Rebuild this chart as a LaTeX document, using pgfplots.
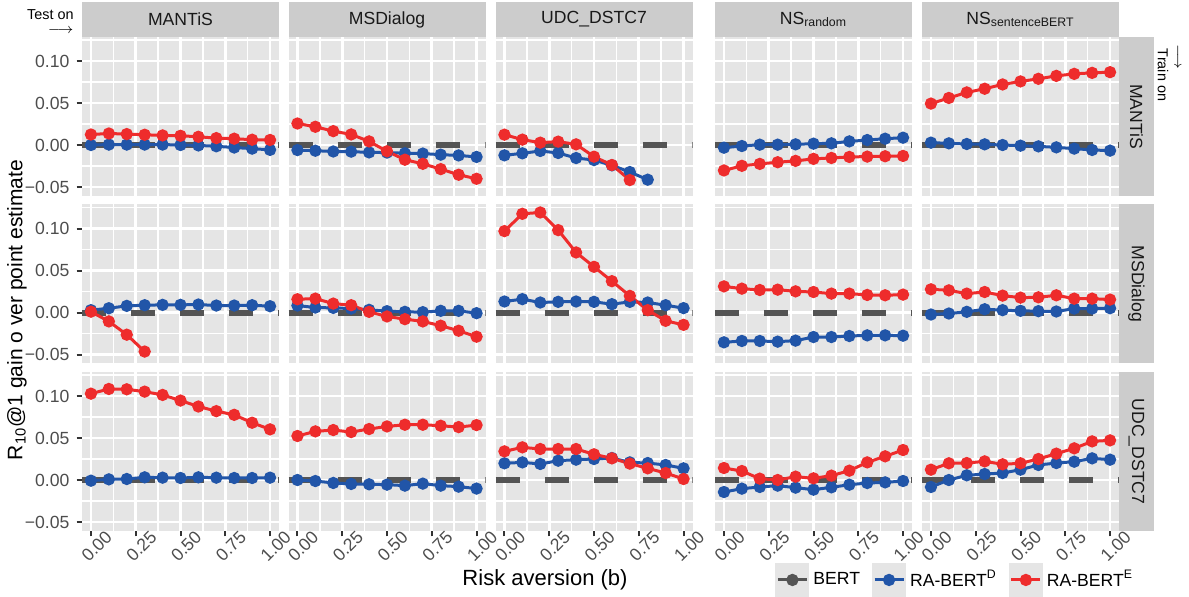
\documentclass[border=0pt]{standalone}
\usepackage{pgfplots}
\pgfplotsset{compat=1.18}
\usepackage{fontspec}
\setmainfont{Liberation Sans}

\definecolor{panelbg}{HTML}{E5E5E5}
\definecolor{stripc}{HTML}{CCCCCC}
\definecolor{redc}{HTML}{EE2C2C}
\definecolor{bluec}{HTML}{2155A8}
\definecolor{bertc}{HTML}{545454}
\definecolor{tickc}{HTML}{333333}
\definecolor{labc}{HTML}{4D4D4D}

\newcommand{\tickfont}{\fontsize{8.8}{10}\selectfont}
\newcommand{\stripfont}{\fontsize{8.8}{10}\selectfont}

\pgfplotsset{
  panel/.style={
    scale only axis, width=98.5pt, height=79.5pt, anchor=north west,
    xmin=-0.05, xmax=1.05, ymin=-0.0607, ymax=0.1286,
    axis background/.style={fill=panelbg},
    axis line style={draw=none},
    xtick={0,0.25,0.5,0.75,1}, ytick={-0.05,0,0.05,0.1},
    minor xtick={0.125,0.375,0.625,0.875},
    minor ytick={-0.025,0.025,0.075,0.125},
    grid=both,
    major grid style={white, line width=1.3pt},
    minor grid style={white, line width=0.8pt},
    xticklabels={}, yticklabels={},
    tick pos=left, tick align=outside,
    major tick length=2.75pt, minor tick length=0pt,
    xtick style={draw=none}, ytick style={draw=none},
    ticklabel style={font=\tickfont, text=labc},
  },
  lefty/.style={
    yticklabels={−0.05,0.00,0.05,0.10},
    ytick style={draw=tickc, line width=1pt},
  },
  bottomx/.style={
    xticklabels={0.00,0.25,0.50,0.75,1.00},
    xtick style={draw=tickc, line width=1pt},
    xticklabel style={rotate=45, anchor=center, yshift=-5.5pt, xshift=-1.5pt},
  },
  bert/.style={bertc, line width=3pt, dash pattern=on 12pt off 12.5pt, forget plot},
  blue/.style={bluec, line width=1.5pt, mark=*, mark size=2.3pt, mark options={solid, fill=bluec, draw=bluec}},
  red/.style={redc, line width=1.5pt, mark=*, mark size=2.3pt, mark options={solid, fill=redc, draw=redc}},
}

\begin{document}
\begin{tikzpicture}
\useasboundingbox (0,0) rectangle (594.5pt,-298.5pt);

% ---------- row 1: train on MANTiS ----------
\begin{axis}[panel, lefty, name=a11, at={(41pt,-18.5pt)}]
\addplot[bert] coordinates {(-0.05,0)(1.05,0)};
\addplot[blue] coordinates {(0,0.0)(0.1,0.0005)(0.2,0.0005)(0.3,0.0005)(0.4,0.0005)(0.5,0.0)(0.6,-0.0005)(0.7,-0.0015)(0.8,-0.003)(0.9,-0.0043)(1,-0.0058)};
\addplot[red] coordinates {(0,0.0125)(0.1,0.0137)(0.2,0.013)(0.3,0.0122)(0.4,0.0114)(0.5,0.011)(0.6,0.0098)(0.7,0.0082)(0.8,0.0075)(0.9,0.0063)(1,0.006)};
\end{axis}
\begin{axis}[panel, name=a12, at={(144.25pt,-18.5pt)}]
\addplot[bert] coordinates {(-0.05,0)(1.05,0)};
\addplot[blue] coordinates {(0,-0.006)(0.1,-0.0068)(0.2,-0.0077)(0.3,-0.0079)(0.4,-0.0088)(0.5,-0.009)(0.6,-0.0098)(0.7,-0.0102)(0.8,-0.0115)(0.9,-0.0124)(1,-0.0142)};
\addplot[red] coordinates {(0,0.0256)(0.1,0.0217)(0.2,0.0165)(0.3,0.0126)(0.4,0.0043)(0.5,-0.0075)(0.6,-0.0175)(0.7,-0.0224)(0.8,-0.0287)(0.9,-0.0354)(1,-0.0402)};
\end{axis}
\begin{axis}[panel, name=a13, at={(247.75pt,-18.5pt)}]
\addplot[bert] coordinates {(-0.05,0)(1.05,0)};
\addplot[blue] coordinates {(0,-0.0123)(0.1,-0.0099)(0.2,-0.0071)(0.3,-0.0095)(0.4,-0.0155)(0.5,-0.0179)(0.6,-0.0242)(0.7,-0.0322)(0.8,-0.0413)};
\addplot[red] coordinates {(0,0.0123)(0.1,0.0064)(0.2,0.0028)(0.3,0.004)(0.4,0.0008)(0.5,-0.0139)(0.6,-0.0238)(0.7,-0.0417)};
\end{axis}
\begin{axis}[panel, name=a14, at={(357.5pt,-18.5pt)}]
\addplot[bert] coordinates {(-0.05,0)(1.05,0)};
\addplot[blue] coordinates {(0,-0.0032)(0.1,-0.0012)(0.2,0.0004)(0.3,0.0004)(0.4,0.0008)(0.5,0.0016)(0.6,0.002)(0.7,0.0043)(0.8,0.0059)(0.9,0.0075)(1,0.0087)};
\addplot[red] coordinates {(0,-0.0303)(0.1,-0.0248)(0.2,-0.0225)(0.3,-0.0205)(0.4,-0.0189)(0.5,-0.0165)(0.6,-0.0154)(0.7,-0.0142)(0.8,-0.0138)(0.9,-0.0134)(1,-0.013)};
\end{axis}
\begin{axis}[panel, name=a15, at={(461pt,-18.5pt)}]
\addplot[bert] coordinates {(-0.05,0)(1.05,0)};
\addplot[blue] coordinates {(0,0.0028)(0.1,0.002)(0.2,0.0012)(0.3,0.0008)(0.4,0)(0.5,-0.0008)(0.6,-0.0016)(0.7,-0.0028)(0.8,-0.0043)(0.9,-0.0059)(1,-0.0067)};
\addplot[red] coordinates {(0,0.0493)(0.1,0.056)(0.2,0.0626)(0.3,0.067)(0.4,0.0721)(0.5,0.0757)(0.6,0.0788)(0.7,0.0823)(0.8,0.0847)(0.9,0.0859)(1,0.0867)};
\end{axis}

% ---------- row 2: train on MSDialog ----------
\begin{axis}[panel, lefty, name=a21, at={(41pt,-102.25pt)}]
\addplot[bert] coordinates {(-0.05,0)(1.05,0)};
\addplot[blue] coordinates {(0,0.0028)(0.1,0.0051)(0.2,0.0079)(0.3,0.0087)(0.4,0.0091)(0.5,0.0091)(0.6,0.0095)(0.7,0.0083)(0.8,0.0083)(0.9,0.0087)(1,0.0075)};
\addplot[red] coordinates {(0,0.001)(0.1,-0.0106)(0.2,-0.0264)(0.3,-0.0465)};
\end{axis}
\begin{axis}[panel, name=a22, at={(144.25pt,-102.25pt)}]
\addplot[bert] coordinates {(-0.05,0)(1.05,0)};
\addplot[blue] coordinates {(0,0.0083)(0.1,0.0059)(0.2,0.0055)(0.3,0.0047)(0.4,0.0032)(0.5,0.0016)(0.6,0.0008)(0.7,0.0004)(0.8,0.002)(0.9,0.002)(1,-0.0008)};
\addplot[red] coordinates {(0,0.0158)(0.1,0.0165)(0.2,0.0106)(0.3,0.0087)(0.4,0.0008)(0.5,-0.0047)(0.6,-0.0079)(0.7,-0.0106)(0.8,-0.0157)(0.9,-0.0217)(1,-0.0288)};
\end{axis}
\begin{axis}[panel, name=a23, at={(247.75pt,-102.25pt)}]
\addplot[bert] coordinates {(-0.05,0)(1.05,0)};
\addplot[blue] coordinates {(0,0.0131)(0.1,0.0159)(0.2,0.0119)(0.3,0.0127)(0.4,0.0131)(0.5,0.0127)(0.6,0.0099)(0.7,0.0127)(0.8,0.0119)(0.9,0.0087)(1,0.0052)};
\addplot[red] coordinates {(0,0.0969)(0.1,0.1175)(0.2,0.1191)(0.3,0.0981)(0.4,0.0715)(0.5,0.0544)(0.6,0.0373)(0.7,0.0198)(0.8,0.0028)(0.9,-0.0099)(1,-0.0147)};
\end{axis}
\begin{axis}[panel, name=a24, at={(357.5pt,-102.25pt)}]
\addplot[bert] coordinates {(-0.05,0)(1.05,0)};
\addplot[blue] coordinates {(0,-0.0355)(0.1,-0.0339)(0.2,-0.0339)(0.3,-0.0347)(0.4,-0.0335)(0.5,-0.0292)(0.6,-0.0292)(0.7,-0.028)(0.8,-0.0272)(0.9,-0.0272)(1,-0.0276)};
\addplot[red] coordinates {(0,0.0311)(0.1,0.0284)(0.2,0.0268)(0.3,0.0272)(0.4,0.0252)(0.5,0.0244)(0.6,0.0225)(0.7,0.0225)(0.8,0.0209)(0.9,0.0205)(1,0.0213)};
\end{axis}
\begin{axis}[panel, name=a25, at={(461pt,-102.25pt)}]
\addplot[bert] coordinates {(-0.05,0)(1.05,0)};
\addplot[blue] coordinates {(0,-0.0024)(0.1,-0.0012)(0.2,0.0008)(0.3,0.0039)(0.4,0.0028)(0.5,0.002)(0.6,0.0016)(0.7,0.0012)(0.8,0.0047)(0.9,0.0047)(1,0.0051)};
\addplot[red] coordinates {(0,0.0276)(0.1,0.0264)(0.2,0.0225)(0.3,0.0244)(0.4,0.0201)(0.5,0.0177)(0.6,0.0181)(0.7,0.0205)(0.8,0.0165)(0.9,0.0165)(1,0.0154)};
\end{axis}

% ---------- row 3: train on UDC_DSTC7 ----------
\begin{axis}[panel, lefty, bottomx, name=a31, at={(41pt,-186pt)}]
\addplot[bert] coordinates {(-0.05,0)(1.05,0)};
\addplot[blue] coordinates {(0,-0.0008)(0.1,0.0008)(0.2,0.0012)(0.3,0.0032)(0.4,0.0028)(0.5,0.0024)(0.6,0.0032)(0.7,0.0028)(0.8,0.0024)(0.9,0.0024)(1,0.0028)};
\addplot[red] coordinates {(0,0.1028)(0.1,0.1084)(0.2,0.108)(0.3,0.1052)(0.4,0.1013)(0.5,0.0946)(0.6,0.0875)(0.7,0.082)(0.8,0.0776)(0.9,0.0682)(1,0.0603)};
\end{axis}
\begin{axis}[panel, bottomx, name=a32, at={(144.25pt,-186pt)}]
\addplot[bert] coordinates {(-0.05,0)(1.05,0)};
\addplot[blue] coordinates {(0,0)(0.1,-0.0012)(0.2,-0.0035)(0.3,-0.0047)(0.4,-0.0051)(0.5,-0.0055)(0.6,-0.0067)(0.7,-0.0043)(0.8,-0.0067)(0.9,-0.0079)(1,-0.0102)};
\addplot[red] coordinates {(0,0.0524)(0.1,0.0579)(0.2,0.0595)(0.3,0.0571)(0.4,0.0607)(0.5,0.0638)(0.6,0.0658)(0.7,0.0658)(0.8,0.0646)(0.9,0.063)(1,0.0654)};
\end{axis}
\begin{axis}[panel, bottomx, name=a33, at={(247.75pt,-186pt)}]
\addplot[bert] coordinates {(-0.05,0)(1.05,0)};
\addplot[blue] coordinates {(0,0.0199)(0.1,0.021)(0.2,0.0191)(0.3,0.023)(0.4,0.0242)(0.5,0.025)(0.6,0.0262)(0.7,0.021)(0.8,0.0202)(0.9,0.0179)(1,0.0139)};
\addplot[red] coordinates {(0,0.0341)(0.1,0.0389)(0.2,0.0369)(0.3,0.0369)(0.4,0.0369)(0.5,0.0306)(0.6,0.0258)(0.7,0.0195)(0.8,0.0139)(0.9,0.0083)(1,0.0012)};
\end{axis}
\begin{axis}[panel, bottomx, name=a34, at={(357.5pt,-186pt)}]
\addplot[bert] coordinates {(-0.05,0)(1.05,0)};
\addplot[blue] coordinates {(0,-0.0143)(0.1,-0.0103)(0.2,-0.0083)(0.3,-0.0067)(0.4,-0.0091)(0.5,-0.0115)(0.6,-0.0087)(0.7,-0.0056)(0.8,-0.0036)(0.9,-0.0028)(1,-0.0012)};
\addplot[red] coordinates {(0,0.0143)(0.1,0.0107)(0.2,0.0016)(0.3,0)(0.4,0.004)(0.5,0.002)(0.6,0.0052)(0.7,0.0111)(0.8,0.021)(0.9,0.0282)(1,0.0357)};
\end{axis}
\begin{axis}[panel, bottomx, name=a35, at={(461pt,-186pt)},
  legend columns=3,
  legend style={draw=none, fill=none, inner sep=0pt, at={(-0.746,-0.308)}, anchor=west,
    font=\stripfont, text=black, /tikz/every even column/.append style={column sep=4pt}},
  legend image code/.code={
    \fill[panelbg] (0pt,-7.75pt) rectangle (15.5pt,7.75pt);
    \draw[mark repeat=2,mark phase=2,#1] plot coordinates {(0.5pt,0pt)(7.75pt,0pt)(15pt,0pt)};
  }]
\addplot[bert] coordinates {(-0.05,0)(1.05,0)};
\addlegendimage{bertc, line width=1.5pt, mark=*, mark size=2.3pt, mark options={fill=bertc}}
\addplot[blue] coordinates {(0,-0.0083)(0.1,0)(0.2,0.0056)(0.3,0.0071)(0.4,0.0083)(0.5,0.0123)(0.6,0.0179)(0.7,0.0202)(0.8,0.0218)(0.9,0.0258)(1,0.0242)};
\addplot[red] coordinates {(0,0.0123)(0.1,0.0199)(0.2,0.0202)(0.3,0.0222)(0.4,0.0187)(0.5,0.0199)(0.6,0.025)(0.7,0.0314)(0.8,0.0377)(0.9,0.046)(1,0.0472)};
\legend{BERT, RA-BERT\textsuperscript{D}, RA-BERT\textsuperscript{E}}
\end{axis}

% ---------- facet strips ----------
\foreach \a/\t in {a11/MANTiS, a12/MSDialog, a13/UDC\_DSTC7, a14/NS\textsubscript{random}, a15/NS\textsubscript{sentenceBERT}} {
  \fill[stripc] (\a.north west) rectangle ++(98.5pt,17.5pt);
  \node[font=\stripfont, text=black!90, anchor=center] at ([yshift=8.75pt]\a.north) {\t};
}
\foreach \a/\t in {a15/MANTiS, a25/MSDialog, a35/UDC\_DSTC7} {
  \fill[stripc] (\a.north east) rectangle ++(17.5pt,-79.5pt);
  \node[font=\stripfont, text=black!90, rotate=-90, anchor=center] at ([xshift=8.75pt]\a.east) {\t};
}

% ---------- axis titles and corner notes ----------
\node[font=\fontsize{10.5}{12}\selectfont, rotate=90] at (8.5pt,-155pt) {R\textsubscript{10}@1 gain o ver point estimate};
\node[font=\fontsize{11}{13}\selectfont] at (272.5pt,-290pt) {Risk aversion (b)};
\node[font=\fontsize{7.2}{8}\selectfont, anchor=east, inner sep=0pt] at (37pt,-7.5pt) {Test on};
\node[font=\fontsize{7.2}{8}\selectfont, anchor=east, inner sep=0pt] at (37pt,-15.5pt) {$\longrightarrow$};
\node[font=\fontsize{7.2}{8}\selectfont, rotate=-90, inner sep=0pt] at (581.5pt,-37.5pt) {Train on};
\node[font=\fontsize{7.2}{8}\selectfont, rotate=-90, inner sep=0pt] at (588.5pt,-28.5pt) {$\longrightarrow$};
\end{tikzpicture}
\end{document}
